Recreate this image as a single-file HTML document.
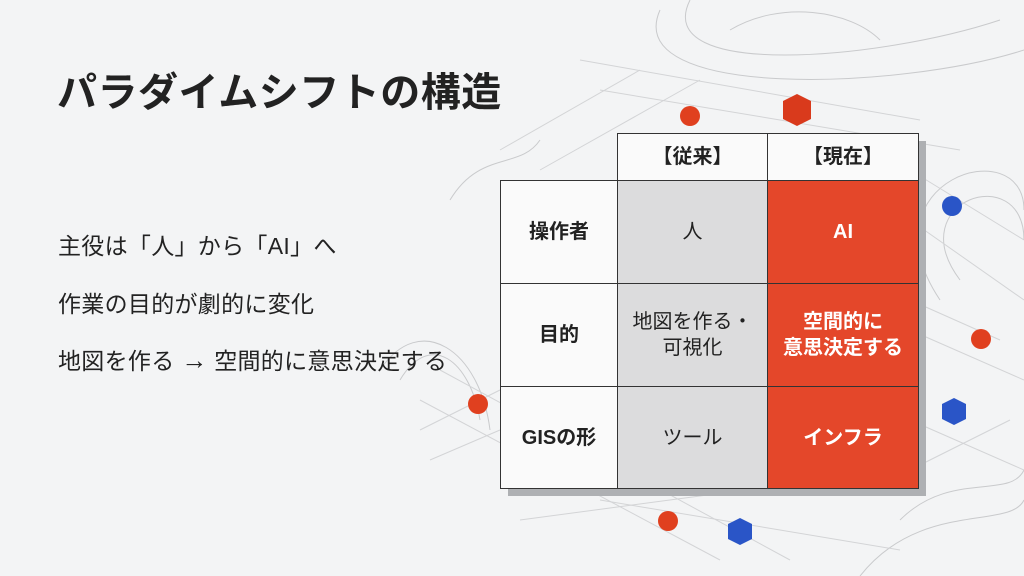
<!DOCTYPE html>
<html><head><meta charset="utf-8"><style>
body{margin:0;width:1024px;height:576px;overflow:hidden;background:#f3f4f5;font-family:"Liberation Sans","Noto Sans CJK JP",sans-serif;position:relative}
.t{position:absolute;left:57px;top:60px;font-size:40px;font-weight:bold;color:#222;letter-spacing:0.5px}
.b{position:absolute;left:58px;font-size:23px;color:#222;letter-spacing:0.3px}
.c{position:absolute;box-sizing:border-box;border:1.5px solid #333;display:flex;align-items:center;justify-content:center;text-align:center;font-size:20px;font-weight:bold;color:#222;line-height:1.3}
.w{background:#fafafa}.g{background:#dcdcdd}.r{background:#e4472a;color:#fff}
</style></head><body>
<svg width="1024" height="576" style="position:absolute;left:0;top:0">
<g fill="none" stroke="#c9cacc" stroke-width="1">
<path d="M690 0 C650 80 880 60 1000 20"/><path d="M660 10 C620 100 900 90 1024 50"/>
<path d="M960 280 C900 200 1024 160 1024 240"/><path d="M940 300 C860 180 1024 130 1024 210"/>
<path d="M900 520 C950 470 1010 500 1024 470"/><path d="M860 576 C920 500 1010 530 1024 500"/>
<path d="M400 380 C430 330 470 360 480 420"/><path d="M380 370 C420 310 480 350 490 430"/>
<path d="M450 200 C480 150 520 170 540 140"/><path d="M730 30 C780 0 850 10 880 40"/>
</g>
<g stroke="#d3d4d6" stroke-width="1">
<line x1="420" y1="400" x2="720" y2="560"/><line x1="440" y1="370" x2="790" y2="560"/>
<line x1="500" y1="150" x2="640" y2="70"/><line x1="540" y1="170" x2="700" y2="80"/>
<line x1="580" y1="60" x2="920" y2="120"/><line x1="600" y1="90" x2="960" y2="150"/>
<line x1="910" y1="170" x2="1024" y2="240"/><line x1="910" y1="220" x2="1024" y2="300"/>
<line x1="910" y1="330" x2="1024" y2="380"/><line x1="910" y1="420" x2="1024" y2="470"/>
<line x1="910" y1="300" x2="1000" y2="340"/><line x1="910" y1="470" x2="1010" y2="420"/>
<line x1="420" y1="430" x2="500" y2="390"/><line x1="430" y1="460" x2="500" y2="430"/>
<line x1="600" y1="500" x2="900" y2="550"/><line x1="520" y1="520" x2="820" y2="480"/>
</g>
<circle cx="690" cy="116" r="10" fill="#e0401f"/>
<path d="M783 101 L797 94 L811 101 L811 119 L797 126 L783 119Z" fill="#d93a1c"/>
<circle cx="952" cy="206" r="10" fill="#2a55c7"/>
<circle cx="981" cy="339" r="10" fill="#e0401f"/>
<path d="M942 404 L954 398 L966 404 L966 419 L954 425 L942 419Z" fill="#2a55c7"/>
<circle cx="478" cy="404" r="10" fill="#e0401f"/>
<circle cx="668" cy="521" r="10" fill="#e0401f"/>
<path d="M728 524 L740 518 L752 524 L752 539 L740 545 L728 539Z" fill="#2a55c7"/>
<rect x="508" y="188" width="418" height="308" fill="#aeb0b3"/>
<rect x="625" y="141" width="301" height="50" fill="#aeb0b3"/>
</svg>
<div class="t">パラダイムシフトの構造</div>
<div class="b" style="top:227px">主役は「人」から「AI」へ</div>
<div class="b" style="top:285px">作業の目的が劇的に変化</div>
<div class="b" style="top:342px">地図を作る <span style="font-size:26px">→</span> 空間的に意思決定する</div>
<div class="c w" style="left:617px;top:133px;width:151px;height:48px">【従来】</div>
<div class="c w" style="left:767px;top:133px;width:152px;height:48px">【現在】</div>
<div class="c w" style="left:500px;top:180px;width:118px;height:104px">操作者</div>
<div class="c g" style="left:617px;top:180px;width:151px;height:104px;font-weight:normal">人</div>
<div class="c r" style="left:767px;top:180px;width:152px;height:104px">AI</div>
<div class="c w" style="left:500px;top:283px;width:118px;height:104px">目的</div>
<div class="c g" style="left:617px;top:283px;width:151px;height:104px;font-weight:normal">地図を作る・<br>可視化</div>
<div class="c r" style="left:767px;top:283px;width:152px;height:104px">空間的に<br>意思決定する</div>
<div class="c w" style="left:500px;top:386px;width:118px;height:103px">GISの形</div>
<div class="c g" style="left:617px;top:386px;width:151px;height:103px;font-weight:normal">ツール</div>
<div class="c r" style="left:767px;top:386px;width:152px;height:103px">インフラ</div>
</body></html>
